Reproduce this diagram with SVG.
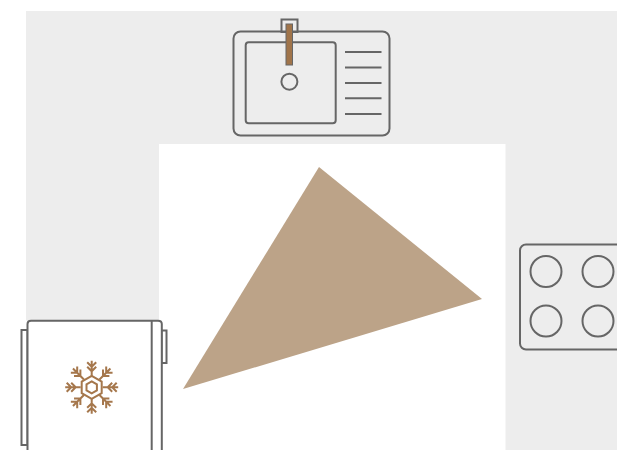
<svg xmlns="http://www.w3.org/2000/svg" width="617" height="450" viewBox="0 0 617 450">
<style>
.o{fill:none;stroke:#666;stroke-width:2}
.w{fill:#fff;stroke:#666;stroke-width:2}
.s{fill:none;stroke:#a5774c;stroke-width:2}
</style>
<defs>
<g id="arm"><path class="s" d="M0 -11V-26.500M-4.500 -25L0 -20.500L4.500 -25M-4.500 -20.500L0 -16L4.500 -20.500"/></g>
</defs>
<rect width="617" height="450" fill="#fff"/>
<g id="floor">
<path d="M26 11H617V450H505.500V144H159V320.500H26Z" fill="#ededed"/>
</g>
<g id="table"><polygon points="319,167 482,299 183,389" fill="#bca388"/></g>
<g id="sink">
<rect class="o" x="281.500" y="19.500" width="16" height="12.500"/>
<rect class="o" x="233.500" y="31.500" width="156" height="104" rx="7"/>
<rect class="o" x="245.700" y="42.300" width="90" height="81" rx="3"/>
<rect x="286" y="24" width="6.500" height="41" fill="#a0744a" stroke="#666" stroke-width="1"/>
<circle class="o" cx="289.400" cy="81.700" r="8"/>
<path class="o" d="M345 52H381.500M345 67.500H381.500M345 83H381.500M345 98.300H381.500M345 114H381.500"/>
</g>
<g id="cooktop">
<rect class="o" x="520" y="244.500" width="110" height="105" rx="6"/>
<circle class="o" cx="546" cy="271.500" r="15.500"/>
<circle class="o" cx="598" cy="271.500" r="15.500"/>
<circle class="o" cx="546" cy="321" r="15.500"/>
<circle class="o" cx="598" cy="321" r="15.500"/>
</g>
<g id="fridge">
<rect class="w" x="21.500" y="330" width="6" height="115"/>
<rect class="w" x="161.500" y="330.500" width="5" height="32.500"/>
<path class="w" d="M27.500 452V324Q27.500 320.700 31 320.700H158Q161.800 320.700 161.800 324V452"/>
<path class="o" d="M151.700 320.700V452"/>
<g transform="translate(91.700 387.300)">
<polygon class="s" points="0,-11.500 10,-5.750 10,5.750 0,11.500 -10,5.750 -10,-5.750"/>
<polygon class="s" points="0,-6 5.200,-3 5.200,3 0,6 -5.200,3 -5.200,-3"/>
<use href="#arm"/>
<use href="#arm" transform="rotate(45)"/>
<use href="#arm" transform="rotate(90)"/>
<use href="#arm" transform="rotate(135)"/>
<use href="#arm" transform="rotate(180)"/>
<use href="#arm" transform="rotate(225)"/>
<use href="#arm" transform="rotate(270)"/>
<use href="#arm" transform="rotate(315)"/>
</g>
</g>
</svg>
